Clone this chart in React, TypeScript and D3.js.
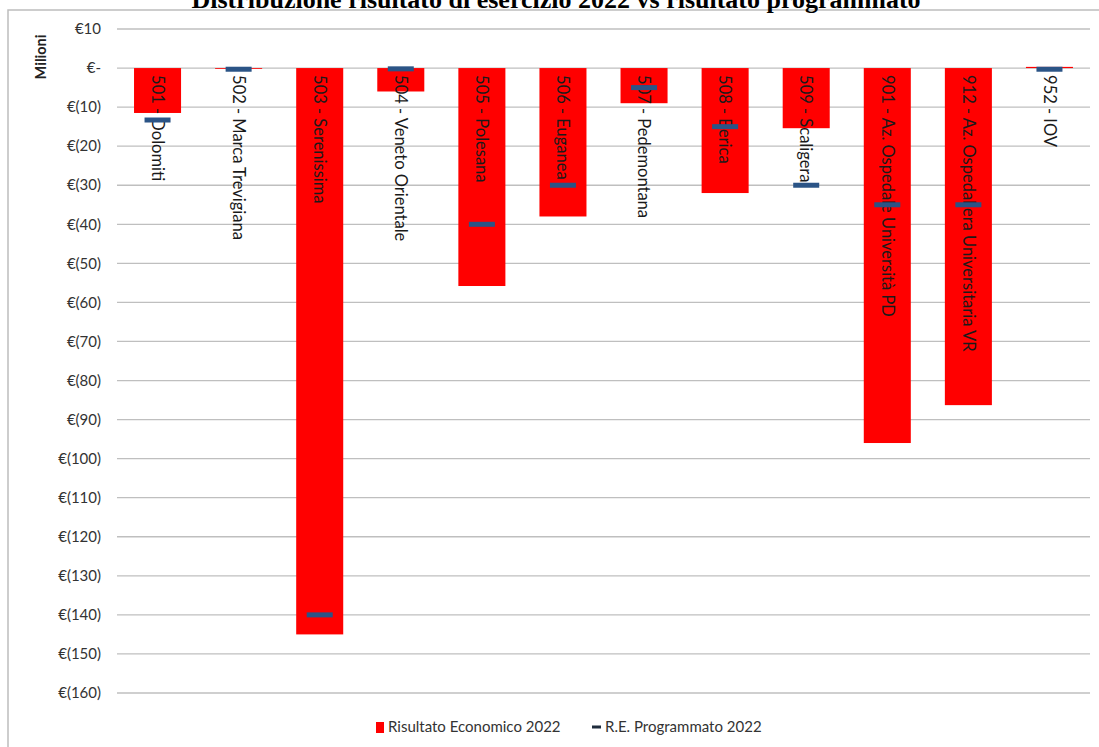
import React from "react";
import * as d3 from "d3";

const categories = [
  "501 - Dolomiti",
  "502 - Marca Trevigiana",
  "503 - Serenissima",
  "504 - Veneto Orientale",
  "505 - Polesana",
  "506 - Euganea",
  "507 - Pedemontana",
  "508 - Berica",
  "509 - Scaligera",
  "901 - Az. Ospedale Università PD",
  "912 - Az. Ospedaliera Universitaria VR",
  "952 - IOV",
];
const risultato2022 = [-11.5, 0, -145, -6, -55.8, -38, -9, -32, -15.4, -96, -86.3, 0.3];
const programmato2022 = [-13.3, -0.3, -140, -0.2, -40, -30, -5, -15, -30, -35, -35, -0.3];
const yTicks = [10, 0, -10, -20, -30, -40, -50, -60, -70, -80, -90, -100, -110, -120, -130, -140, -150, -160];
const title = "Distribuzione risultato di esercizio 2022 vs risultato programmato";
const seriesNames = ["Risultato Economico 2022", "R.E. Programmato 2022"];

const W = 1099;
const H = 747;
const left = 117;
const right = 1090;
const top = 29;
const bottom = 693;
const sans = "Lato, 'Open Sans', sans-serif";

function fmt(v: number) {
  if (v === 0) return "€-";
  if (v < 0) return `€(${Math.abs(v)})`;
  return `€${v}`;
}

export default function App() {
  const x = d3.scaleBand<string>().domain(categories).range([left, right]).paddingInner(0.42).paddingOuter(0.21);
  const y = d3.scaleLinear().domain([10, -160]).range([top, bottom]);
  const bw = x.bandwidth();
  return (
    <svg width={W} height={H} style={{ position: "absolute", left: 0, top: 0, background: "#fff" }}>
      <rect x={8} y={10} width={1200} height={760} fill="none" stroke="#bdbdbd" strokeWidth={1.5} />
      <text x={556} y={8} textAnchor="middle" fontFamily="'Liberation Serif', 'Times New Roman', serif" fontWeight="bold" fontSize={26}>
        {title}
      </text>
      {yTicks.map((t) => (
        <g key={t}>
          <line x1={left} x2={right} y1={y(t)} y2={y(t)} stroke="#bfbfbf" strokeWidth={1.3} />
          <text x={101} y={y(t)} dy="0.35em" textAnchor="end" fontFamily={sans} fontSize={15} fill="#333">
            {fmt(t)}
          </text>
        </g>
      ))}
      <text transform="translate(46,57) rotate(-90)" textAnchor="middle" fontFamily={sans} fontWeight="bold" fontSize={14.5} fill="#222">
        Milioni
      </text>
      {categories.map((c, i) => {
        const v = risultato2022[i];
        const y0 = y(Math.max(0, v));
        const y1 = y(Math.min(0, v));
        return (
          <rect key={c} x={x(c)} y={y0} width={bw} height={Math.max(0.8, y1 - y0)} fill="#ff0000" />
        );
      })}
      {categories.map((c) => (
        <text
          key={c}
          transform={`translate(${(x(c) as number) + bw / 2},${y(0) + 7}) rotate(90)`}
          dy="0.35em"
          fontFamily={sans}
          fontSize={16.5}
          fill="#1a1a1a"
        >
          {c}
        </text>
      ))}
      {categories.map((c, i) => (
        <rect
          key={c}
          x={(x(c) as number) + bw / 2 - 13}
          y={y(programmato2022[i]) - 2.5}
          width={26}
          height={5}
          fill="#2b5486"
        />
      ))}
      <g fontFamily={sans} fontSize={15} fill="#333">
        <rect x={376} y={722} width={8} height={11} fill="#ff0000" />
        <text x={388} y={727} dy="0.35em">{seriesNames[0]}</text>
        <rect x={592} y={725.5} width={9} height={3} fill="#1f2d3d" />
        <text x={605} y={727} dy="0.35em">{seriesNames[1]}</text>
      </g>
    </svg>
  );
}
